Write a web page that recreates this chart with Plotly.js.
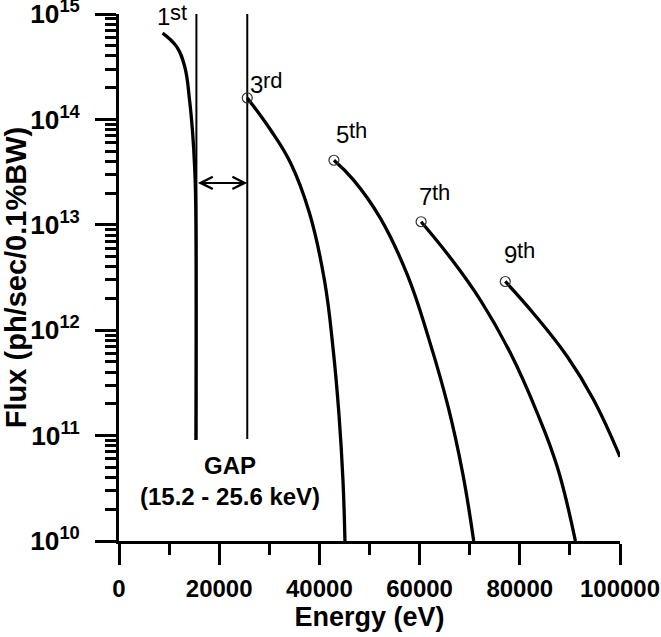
<!DOCTYPE html>
<html>
<head>
<meta charset="utf-8">
<script src="https://cdn.plot.ly/plotly-3.0.1.min.js"></script>
<style>
  html, body { margin: 0; padding: 0; background: #fff; }
  #plot { width: 661px; height: 637px; }
</style>
</head>
<body>
<div id="plot"></div>
<script>
// undulator harmonics, flux vs photon energy

// 1st harmonic
const energy1 = [8700, 11500, 13100, 14100, 14700, 15100, 15300, 15350];
const flux1 = [6.6e14, 4.9e14, 3.2e14, 1.5e14, 7.4e13, 3.5e13, 1.7e13, 9.1e10];

// 3rd harmonic
const energy3 = [25600, 30300, 34200, 38000, 41000, 42700, 43900, 44700, 45100];
const flux3 = [1.6e14, 7.9e13, 3.9e13, 1.3e13, 3.0e12, 6.9e11, 1.6e11, 3.8e10, 1.0e10];

// 5th harmonic
const energy5 = [42900, 46700, 52100, 57500, 61900, 65700, 68600, 70800];
const flux5 = [4.1e13, 2.7e13, 1.17e13, 3.4e12, 8.1e11, 1.87e11, 4.4e10, 1.0e10];

// 7th harmonic
const energy7 = [60300, 66100, 72100, 78100, 83500, 87500, 91100];
const flux7 = [1.07e13, 4.9e12, 1.94e12, 6.1e11, 1.63e11, 5.0e10, 1.0e10];

// 9th harmonic
const energy9 = [77100, 82700, 89500, 94700, 100000];
const flux9 = [2.9e12, 1.45e12, 5.6e11, 2.2e11, 6.3e10];

// energy gap between 1st and 3rd harmonic
const gapEnergy = [15450, 25600];
const gapFlux = [9.3e10, 1e15];
const gapArrowFlux = 2.5e13;

// harmonic labels (x = where number ends and suffix starts)
const harmNum = ['1', '3', '5', '7', '9'];
const harmSuffix = ['st', 'rd', 'th', 'th', 'th'];
const harmLabelX = [10100, 28700, 45900, 62500, 79500];
const harmLabelY = [9.5e14, 2.14e14, 7.2e13, 1.85e13, 5.2e12];

const FONT = 'Liberation Sans, Arial, sans-serif';

function curve(x, y) {
    return {
        x: x,
        y: y,
        mode: 'lines',
        line: { color: '#000', width: 3.3, shape: 'spline', smoothing: 1.2 },
        hoverinfo: 'skip'
    };
}

const traces = [
    curve(energy1, flux1),
    curve(energy3, flux3),
    curve(energy5, flux5),
    curve(energy7, flux7),
    curve(energy9, flux9),
    {
        x: [gapEnergy[0], gapEnergy[0], null, gapEnergy[1], gapEnergy[1]],
        y: [gapFlux[0], gapFlux[1], null, gapFlux[0], gapFlux[1]],
        mode: 'lines',
        line: { color: '#000', width: 2 },
        hoverinfo: 'skip'
    },
    {
        x: [energy3[0], energy5[0], energy7[0], energy9[0]],
        y: [flux3[0], flux5[0], flux7[0], flux9[0]],
        mode: 'markers',
        marker: { symbol: 'circle-open', size: 10, color: '#333', line: { width: 1.2, color: '#333' } },
        hoverinfo: 'skip'
    }
];

const annotations = [];
harmNum.forEach((n, i) => {
    annotations.push({
        x: harmLabelX[i], y: Math.log10(harmLabelY[i]),
        xref: 'x', yref: 'y', xanchor: 'right', yanchor: 'middle',
        xshift: 2,
        text: n, showarrow: false,
        font: { family: FONT, size: 24, color: '#000' }
    });
    annotations.push({
        x: harmLabelX[i], y: Math.log10(harmLabelY[i]),
        xref: 'x', yref: 'y', xanchor: 'left', yanchor: 'middle',
        yshift: 4, xshift: -2,
        text: harmSuffix[i], showarrow: false,
        font: { family: FONT, size: 22, color: '#000' }
    });
});

// double-headed arrow across the gap
annotations.push({
    x: gapEnergy[1],
    y: Math.log10(gapArrowFlux),
    ax: gapEnergy[0],
    ay: Math.log10(gapArrowFlux),
    xref: 'x', yref: 'y', axref: 'x', ayref: 'y',
    text: '',
    showarrow: true,
    arrowside: 'end+start',
    arrowhead: 5,
    startarrowhead: 5,
    arrowsize: 1.2,
    startarrowsize: 1.2,
    arrowwidth: 2,
    arrowcolor: '#000'
});

annotations.push({
    x: 22200,
    y: Math.log10(3.7e10),
    xref: 'x', yref: 'y',
    text: 'GAP<br>(15.2 - 25.6 keV)',
    showarrow: false,
    font: { family: FONT, size: 24, color: '#000', weight: 700 }
});

const layout = {
    width: 661,
    height: 637,
    margin: { l: 119, r: 41, t: 14, b: 96 },
    paper_bgcolor: '#fff',
    plot_bgcolor: '#fff',
    showlegend: false,
    font: { family: FONT, color: '#000' },
    xaxis: {
        range: [0, 100000],
        dtick: 20000,
        tick0: 0,
        tickformat: 'd',
        showgrid: false,
        zeroline: false,
        showline: true,
        linewidth: 3,
        linecolor: '#000',
        ticks: 'outside',
        ticklen: 21,
        tickwidth: 3,
        tickcolor: '#000',
        ticklabelstandoff: 3,
        minor: { dtick: 10000, ticks: 'outside', ticklen: 11, tickwidth: 3, tickcolor: '#000', showgrid: false },
        tickfont: { family: FONT, size: 24, weight: 700 },
        title: { text: 'Energy (eV)', font: { family: FONT, size: 27, weight: 700 }, standoff: 4 },
        fixedrange: true
    },
    yaxis: {
        type: 'log',
        range: [10, 15.0005],
        dtick: 1,
        exponentformat: 'power',
        showgrid: false,
        zeroline: false,
        showline: true,
        linewidth: 3,
        linecolor: '#000',
        ticks: 'outside',
        ticklen: 21,
        tickwidth: 3,
        tickcolor: '#000',
        ticklabelstandoff: 11,
        ticklabeloverflow: 'allow',
        minor: { dtick: 'D1', ticks: 'outside', ticklen: 11, tickwidth: 3, tickcolor: '#000', showgrid: false },
        tickfont: { family: FONT, size: 21, weight: 700 },
        title: { text: 'Flux (ph/sec/0.1%BW)', font: { family: FONT, size: 29, weight: 700 }, standoff: 6 },
        fixedrange: true
    },
    annotations: annotations
};

Plotly.newPlot('plot', traces, layout, { displayModeBar: false, staticPlot: true });
</script>
</body>
</html>
